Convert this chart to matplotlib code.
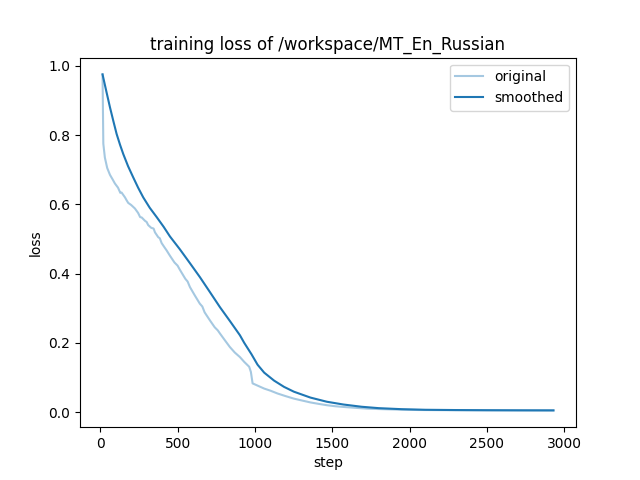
import matplotlib
matplotlib.use("Agg")
import matplotlib.pyplot as plt

orig_steps = [15, 20, 30, 45, 63, 80, 95, 115, 130, 138, 160, 170, 181, 200, 212, 224,
              245, 258, 268, 290, 300, 310, 330, 345, 354, 375, 385, 397, 415, 429, 450,
              480, 500, 515, 550, 565, 580, 610, 644, 660, 675, 709, 740, 760, 774, 805,
              838, 870, 903, 931, 963, 974, 985, 1010, 1040, 1060, 1100, 1145, 1200,
              1252, 1310, 1359, 1410, 1465, 1520, 1572, 1647, 1730, 1830, 1950, 2050,
              2200, 2400, 2600, 2800, 2930]
orig_loss = [0.975, 0.775, 0.735, 0.705, 0.685, 0.672, 0.660, 0.648, 0.633, 0.634,
             0.620, 0.612, 0.604, 0.598, 0.593, 0.588, 0.575, 0.563, 0.562, 0.552,
             0.549, 0.540, 0.532, 0.530, 0.519, 0.505, 0.502, 0.488, 0.476, 0.467,
             0.452, 0.432, 0.423, 0.411, 0.385, 0.377, 0.361, 0.338, 0.313, 0.305,
             0.288, 0.265, 0.245, 0.236, 0.227, 0.208, 0.188, 0.172, 0.159, 0.145,
             0.131, 0.116, 0.083, 0.078, 0.072, 0.068, 0.062, 0.054, 0.046, 0.039,
             0.033, 0.028, 0.024, 0.020, 0.017, 0.015, 0.0125, 0.010, 0.0085, 0.007,
             0.0062, 0.0057, 0.0054, 0.0052, 0.005, 0.005]

smooth_steps = [15, 40, 63, 85, 106, 128, 149, 180, 213, 245, 278, 320, 365, 410, 451,
                515, 580, 644, 710, 774, 840, 903, 931, 978, 1017, 1060, 1124, 1188,
                1252, 1359, 1465, 1572, 1690, 1800, 1950, 2100, 2300, 2500, 2700, 2930]
smooth_loss = [0.975, 0.925, 0.880, 0.840, 0.803, 0.772, 0.745, 0.710, 0.678, 0.648,
               0.620, 0.590, 0.563, 0.535, 0.507, 0.470, 0.430, 0.390, 0.346, 0.303,
               0.262, 0.222, 0.200, 0.167, 0.137, 0.114, 0.091, 0.073, 0.059, 0.042,
               0.030, 0.022, 0.0155, 0.0115, 0.0085, 0.0068, 0.006, 0.0055, 0.0052, 0.005]

fig, ax = plt.subplots(figsize=(6.4, 4.8), dpi=100)
ax.plot(orig_steps, orig_loss, color="#1f77b4", alpha=0.4, label="original")
ax.plot(smooth_steps, smooth_loss, color="#1f77b4", label="smoothed")
ax.set_title("training loss of /workspace/MT_En_Russian")
ax.set_xlabel("step")
ax.set_ylabel("loss")
ax.legend(loc="upper right")
fig.savefig("out.png", dpi=100)
